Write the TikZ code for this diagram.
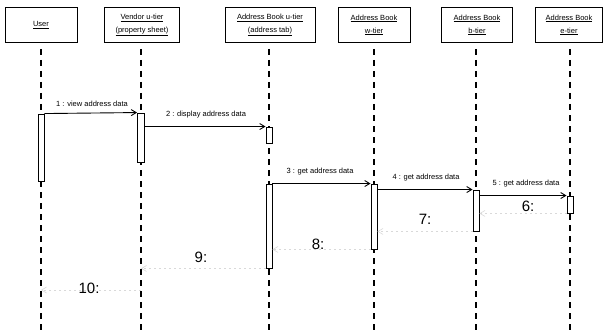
\documentclass[tikz,border=0pt]{standalone}
\usepackage{fontspec}
\setmainfont{Liberation Sans}
\usetikzlibrary{arrows.meta}
\begin{document}
\begin{tikzpicture}[x=1pt,y=-1pt,
  hdr/.style={draw,line width=1pt,minimum height=35pt,inner sep=1pt,align=center,font=\fontsize{7.5}{13}\selectfont},
  life/.style={line width=1.1pt,dash pattern=on 6pt off 5pt},
  act/.style={draw,fill=white,line width=0.9pt},
  msg/.style={line width=0.9pt,-{Straight Barb[length=5pt,width=6pt]}},
  ret/.style={line width=0.6pt,gray!30,dash pattern=on 2pt off 3pt,-{Straight Barb[length=5pt,width=6pt]}},
  mlab/.style={font=\fontsize{7.5}{8}\selectfont,inner sep=0pt},
  rlab/.style={font=\fontsize{15}{16}\selectfont,inner sep=0pt}]
\useasboundingbox (0,0) rectangle (604,334);
% headers
\node[hdr,minimum width=72pt] (h1) at (41,25) {\underline{User}};
\node[hdr,minimum width=75pt] (h2) at (142,25) {\underline{Vendor u-tier}\\\underline{(property sheet)}};
\node[hdr,minimum width=90pt] (h3) at (270,25) {\underline{Address Book u-tier}\\\underline{(address tab)}};
\node[hdr,minimum width=72pt] (h4) at (374,25) {\underline{Address Book}\\\underline{w-tier}};
\node[hdr,minimum width=71pt] (h5) at (477,25) {\underline{Address Book}\\\underline{b-tier}};
\node[hdr,minimum width=67pt] (h6) at (569,25) {\underline{Address Book}\\\underline{e-tier}};
% lifelines
\coordinate (e1) at (41,334);
\coordinate (e2) at (141,334);
\coordinate (e3) at (269,334);
\coordinate (e4) at (374,334);
\coordinate (e5) at (476,334);
\coordinate (e6) at (570,334);
\draw[life] ([yshift=-6pt]h1.south -| e1) -- (e1);
\draw[life] ([yshift=-6pt]h2.south -| e2) -- (e2);
\draw[life] ([yshift=-6pt]h3.south -| e3) -- (e3);
\draw[life] ([yshift=-6pt]h4.south -| e4) -- (e4);
\draw[life] ([yshift=-6pt]h5.south -| e5) -- (e5);
\draw[life] ([yshift=-6pt]h6.south -| e6) -- (e6);
% activations
\node[act,minimum width=6pt,minimum height=67pt,inner sep=0pt] (a1) at (41,147.5) {};
\node[act,minimum width=7pt,minimum height=49pt,inner sep=0pt] (a2) at (141,137.5) {};
\node[act,minimum width=6pt,minimum height=16pt,inner sep=0pt] (a3) at (269,135) {};
\node[act,minimum width=6pt,minimum height=84pt,inner sep=0pt] (a3b) at (269,226) {};
\node[act,minimum width=6pt,minimum height=65pt,inner sep=0pt] (a4) at (374,216.5) {};
\node[act,minimum width=6pt,minimum height=41pt,inner sep=0pt] (a5) at (476,210.5) {};
\node[act,minimum width=6pt,minimum height=17pt,inner sep=0pt] (a6) at (570,204.5) {};
% messages
\draw[msg] (a1.north east) -- (a2.north west);
\node[mlab] (l1) at (92,104) {1 : view address data};
\draw[msg] (a2.east |- a3.north) -- (a3.north west);
\node[mlab] (l2) at (206,115) {2 : display address data};
\draw[msg] (a3b.north east) -- (a4.north west);
\node[mlab] (l3) at (320,172) {3 : get address data};
\draw[msg] (a4.east |- a5.north) -- (a5.north west);
\node[mlab] (l4) at (426,178) {4 : get address data};
\draw[msg] (a5.east |- a6.north) -- (a6.north west);
\node[mlab] (l5) at (526,184) {5 : get address data};
% returns
\draw[ret] (a6.south west) -- (a6.south west -| a5.east);
\node[rlab] (l6) at (528,206) {6:};
\draw[ret] (a5.south west) -- (a5.south west -| a4.east);
\node[rlab] (l7) at (425,219) {7:};
\draw[ret] (a4.south west) -- (a4.south west -| a3b.east);
\node[rlab] (l8) at (318,244) {8:};
\draw[ret] (a3b.south west) -- (a3b.south west -| e2);
\node[rlab] (l9) at (201,257) {9:};
\coordinate (r10) at (141,290);
\draw[ret] (r10) -- (r10 -| e1);
\node[rlab] (l10) at (89,288) {10:};
\end{tikzpicture}
\end{document}
